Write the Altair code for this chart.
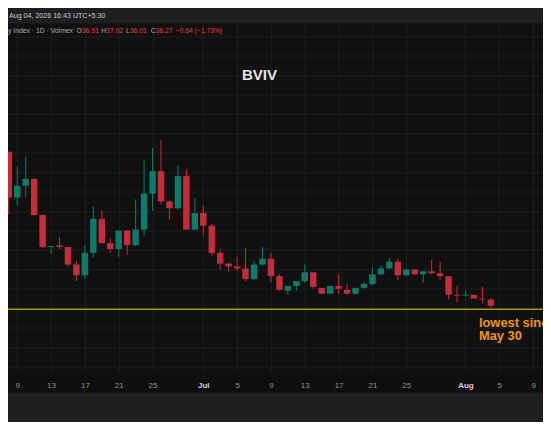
import altair as alt
import pandas as pd

# ---------------- data ----------------
first_day = "2026-06-08"
n_days = 58
opens = [52.1, 47.4, 48.6, 49.3, 45.6, 42.3, 42.5, 42.3, 40.5, 39.4, 41.7, 45.2, 42.7, 42.1, 44.0,
         42.5, 44.1, 47.8, 50.1, 47.0, 46.3, 49.6, 44.1, 45.8, 44.5, 41.7, 40.6, 40.3, 40.1, 39.0,
         40.5, 41.1, 39.3, 37.8, 38.3, 38.8, 39.7, 38.1, 37.5, 38.3, 37.9, 37.5, 38.1, 38.5, 39.5,
         40.1, 40.8, 39.4, 40.0, 39.5, 39.8, 39.6, 39.3, 37.4, 37.3, 37.4, 37.0, 36.91]
highs = [52.1, 50.6, 51.6, 49.4, 45.7, 42.4, 43.3, 42.3, 40.9, 42.5, 46.5, 46.1, 43.2, 44.0, 44.0,
         47.2, 51.3, 52.5, 53.3, 47.1, 50.7, 50.3, 47.4, 46.6, 44.7, 42.1, 40.6, 41.3, 42.2, 40.9,
         42.3, 41.7, 39.5, 38.3, 38.8, 40.5, 39.7, 38.1, 38.3, 39.5, 38.5, 38.1, 38.7, 40.2, 40.4,
         41.2, 41.1, 40.0, 40.0, 39.8, 41.0, 40.8, 39.3, 38.3, 37.8, 37.4, 38.2, 37.02]
lows = [45.7, 46.6, 47.4, 45.5, 42.2, 41.6, 42.1, 40.3, 38.8, 39.0, 41.2, 42.6, 41.7, 41.3, 41.5,
        42.4, 43.5, 46.0, 46.7, 45.1, 46.1, 44.1, 44.0, 43.5, 41.4, 40.0, 39.8, 39.9, 38.8, 38.9,
        40.4, 38.7, 37.8, 37.4, 37.8, 38.6, 38.0, 37.5, 37.5, 37.5, 37.4, 37.4, 38.0, 38.4, 39.4,
        40.0, 38.9, 39.3, 39.4, 38.6, 39.5, 38.9, 36.9, 36.6, 37.2, 37.0, 36.5, 36.01]
closes = [47.4, 48.6, 49.3, 45.6, 42.3, 42.4, 42.3, 40.5, 39.4, 41.7, 45.2, 42.7, 42.1, 44.0, 42.5,
          44.1, 47.8, 50.1, 47.0, 46.3, 49.6, 44.1, 45.8, 44.5, 41.7, 40.6, 40.3, 40.1, 39.0, 40.5,
          41.1, 39.3, 37.9, 38.3, 38.8, 39.7, 38.2, 37.5, 38.3, 38.0, 37.5, 38.1, 38.5, 39.5, 40.1,
          40.8, 39.4, 40.0, 39.5, 39.8, 39.6, 39.3, 37.4, 37.3, 37.4, 37.0, 36.91, 36.27]

tick_dates = ["2026-06-09", "2026-06-13", "2026-06-17", "2026-06-21", "2026-06-25",
              "2026-07-01", "2026-07-05", "2026-07-09", "2026-07-13", "2026-07-17",
              "2026-07-21", "2026-07-25", "2026-08-01", "2026-08-05", "2026-08-09"]
x_range = ["2026-06-07T21:50", "2026-08-10T04:00"]
y_range = [29.6, 65.3]
grid_prices = list(range(30, 66, 2))
level_price = 35.9

title_text = "BVIV"
header_time = "Aug 04, 2026 16:43 UTC+5:30"
header_name = "y Index · 1D · Volmex"
ohlc_letters = ["O", "H", "L", "C"]
ohlc_values = ["36.91", "37.02", "36.01", "36.27"]
change_text = "−0.64 (−1.73%)"
note_lines = ["lowest since", "May 30"]

# ---------------- styles ----------------
W, H = 535, 347
PAD_TOP, PAD_BOTTOM = 15.5, 51.5
UP, DOWN = "#089981", "#f23645"
UP_WICK, DOWN_WICK = "#0a7d6a", "#c42d3b"
FONT = "Liberation Sans"


def ms(d):
    return int(pd.Timestamp(d, tz="UTC").timestamp() * 1000)


days = pd.date_range(first_day, periods=n_days, freq="D")
df = pd.DataFrame({
    "t": [ms(d) for d in days],
    "open": opens, "high": highs, "low": lows, "close": closes,
})
df["dir"] = ["up" if c >= o else "down" for o, c in zip(opens, closes)]

xscale = alt.Scale(type="utc", domain=[ms(x_range[0]), ms(x_range[1])], nice=False, padding=0)
yscale = alt.Scale(domain=y_range, nice=False, zero=False, padding=0)

is_month = "utcdate(datum.value) == 1"
xaxis = alt.Axis(
    values=[ms(d) for d in tick_dates],
    labelExpr=f"{is_month} ? utcFormat(datum.value, '%b') : '' + utcdate(datum.value)",
    grid=True, gridColor="#1e1e1e", gridWidth=1,
    domain=False, ticks=False, tickSize=0,
    labelPadding=15.2, labelBaseline="middle", labelFont=FONT, labelFontSize=8,
    labelColor={"condition": {"test": is_month, "value": "#d1d4dc"}, "value": "#8d9099"},
    labelFontWeight={"condition": {"test": is_month, "value": "bold"}, "value": "normal"},
    labelOverlap=False, labelFlush=False, title=None,
)
yaxis = alt.Axis(values=grid_prices, grid=True, gridColor="#1e1e1e", gridWidth=1,
                 labels=False, ticks=False, domain=False, title=None)

X = alt.X("t:T", scale=xscale, axis=xaxis)
color = alt.Color("dir:N", scale=alt.Scale(domain=["up", "down"], range=[UP, DOWN]), legend=None)
wick_color = alt.Color("dir:N", scale=alt.Scale(domain=["up", "down"], range=[UP_WICK, DOWN_WICK]), legend=None)

one = pd.DataFrame({"k": [0]})

bottom_band = alt.Chart(one).mark_rect(color="#1f1f1f").encode(
    x=alt.value(0), x2=alt.value(W), y=alt.value(369), y2=alt.value(400))
top_band = alt.Chart(one).mark_rect(color="#1f1f1f").encode(
    x=alt.value(0), x2=alt.value(W), y=alt.value(-PAD_TOP), y2=alt.value(0))

level = alt.Chart(pd.DataFrame({"p": [level_price]})).mark_rule(
    color="#a3941f", strokeWidth=1.5).encode(
    y=alt.Y("p:Q", scale=yscale, axis=yaxis))

wicks = alt.Chart(df).mark_rule(strokeWidth=1).encode(
    x=X,
    y=alt.Y("low:Q", scale=yscale, axis=yaxis),
    y2="high:Q",
    color=wick_color,
)
bodies = alt.Chart(df).mark_bar(width=6.4).encode(
    x=X,
    y=alt.Y("open:Q", scale=yscale, axis=yaxis),
    y2="close:Q",
    color=color,
)

texts = []
texts.append(alt.Chart(one).mark_text(
    text=title_text, font=FONT, fontWeight="bold", fontSize=15.1, color="#e6e6e6",
    align="center", baseline="alphabetic").encode(x=alt.value(251.5), y=alt.value(56.4)))
texts.append(alt.Chart(one).mark_text(
    text=header_time, font=FONT, fontSize=7.1, color="#c9ccd3",
    align="left", baseline="middle").encode(x=alt.value(1), y=alt.value(-7.7)))
texts.append(alt.Chart(one).mark_text(
    text=header_name, font=FONT, fontSize=6.8, color="#a9acb4",
    align="left", baseline="middle").encode(x=alt.value(0), y=alt.value(7.8)))
letter_x = [68.5, 93.2, 118.0, 142.7]
letter_w = [5.3, 4.9, 3.8, 4.9]
for lx, lw, letter, val in zip(letter_x, letter_w, ohlc_letters, ohlc_values):
    texts.append(alt.Chart(one).mark_text(
        text=letter, font=FONT, fontSize=6.8, color="#a9acb4",
        align="left", baseline="middle").encode(x=alt.value(lx), y=alt.value(7.8)))
    texts.append(alt.Chart(one).mark_text(
        text=val, font=FONT, fontSize=6.8, color=DOWN,
        align="left", baseline="middle").encode(x=alt.value(lx + lw), y=alt.value(7.8)))
texts.append(alt.Chart(one).mark_text(
    text=change_text, font=FONT, fontSize=6.8, color=DOWN,
    align="left", baseline="middle").encode(x=alt.value(167.5), y=alt.value(7.8)))
for i, line in enumerate(note_lines):
    texts.append(alt.Chart(one).mark_text(
        text=line, font=FONT, fontWeight="bold", fontSize=12.9, color="#f0960e",
        align="left", baseline="alphabetic").encode(x=alt.value(470.9), y=alt.value(303.0 + 13.6 * i)))

chart = alt.layer(top_band, bottom_band, level, wicks, bodies, *texts).properties(
    width=W, height=H,
    autosize=alt.AutoSizeParams(type="none"),
    padding={"left": 0, "right": 0, "top": PAD_TOP, "bottom": PAD_BOTTOM},
    background="#0f0f0f",
).configure_view(fill="#111111", strokeWidth=0)

chart.save("out.html", embed_options={"renderer": "svg", "actions": False})
